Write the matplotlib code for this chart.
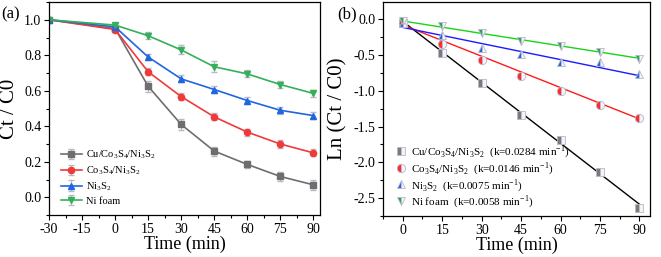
import numpy as np
import matplotlib
matplotlib.use("Agg")
import matplotlib.pyplot as plt
from matplotlib.ticker import MultipleLocator

matplotlib.rcParams['font.family'] = ["Liberation Serif", "DejaVu Serif"]
matplotlib.rcParams['mathtext.fontset'] = "custom"
matplotlib.rcParams['mathtext.rm'] = "Liberation Serif"
matplotlib.rcParams['axes.unicode_minus'] = False

# %% data, panel (a)
timeA = [-30, 0, 15, 30, 45, 60, 75, 90]
cuCoNi = [1.0, 0.95, 0.625, 0.41, 0.26, 0.185, 0.117, 0.07]
cuCoNiErr = [0.005, 0.01, 0.03, 0.03, 0.025, 0.02, 0.025, 0.03]
coNi = [1.0, 0.945, 0.707, 0.567, 0.453, 0.367, 0.30, 0.25]
coNiErr = [0.005, 0.01, 0.02, 0.02, 0.02, 0.02, 0.02, 0.02]
ni3s2 = [1.0, 0.96, 0.79, 0.667, 0.607, 0.545, 0.49, 0.46]
ni3s2Err = [0.005, 0.01, 0.015, 0.02, 0.02, 0.02, 0.02, 0.02]
niFoam = [1.0, 0.97, 0.91, 0.83, 0.735, 0.695, 0.635, 0.585]
niFoamErr = [0.005, 0.01, 0.02, 0.025, 0.03, 0.02, 0.02, 0.02]

# %% data, panel (b)
timeB = [0, 15, 30, 45, 60, 75, 90]
lnCuCoNi = [-0.05, -0.47, -0.89, -1.34, -1.69, -2.13, -2.64]
lnCoNi = [-0.06, -0.35, -0.57, -0.80, -1.00, -1.20, -1.38]
lnNi3s2 = [-0.05, -0.22, -0.40, -0.48, -0.60, -0.60, -0.76]
lnNiFoam = [-0.02, -0.10, -0.20, -0.31, -0.37, -0.46, -0.55]
kValues = [0.0284, 0.0146, 0.0075, 0.0058]
intercepts = [-0.03, -0.08, -0.115, -0.025]

labels = [r"Cu/Co$_3$S$_4$/Ni$_3$S$_2$", r"Co$_3$S$_4$/Ni$_3$S$_2$", r"Ni$_3$S$_2$", "Ni foam"]

# %%
fig = plt.figure(figsize=(6.61, 2.57), dpi=100)
axA = fig.add_axes([49/661, 42/257, 271/661, 213/257])
axB = fig.add_axes([383/661, 41/257, 267/661, 214/257])

markerCols = ["#6e6e6e", "#f03a3a", "#1f66e0", "#34b05a"]
markers = ["s", "o", "^", "v"]

for y, err, col, mk, lab in zip([cuCoNi, coNi, ni3s2, niFoam],
                                [cuCoNiErr, coNiErr, ni3s2Err, niFoamErr],
                                markerCols, markers, labels):
    axA.errorbar(timeA, y, yerr=err, color=col, marker=mk, ms=4.5, lw=1.2,
                 ecolor="#b8b8c8", elinewidth=0.8, capsize=2, label=lab)

axA.set_xlim(-30, 93)
axA.set_ylim(-0.1, 1.1)
axA.xaxis.set_major_locator(MultipleLocator(15))
axA.xaxis.set_minor_locator(MultipleLocator(7.5))
axA.yaxis.set_major_locator(MultipleLocator(0.2))
axA.yaxis.set_minor_locator(MultipleLocator(0.1))
axA.set_xlabel("Time (min)", fontsize=13, labelpad=0)
axA.set_ylabel("Ct / C0", fontsize=15, labelpad=4)
axA.legend(loc="lower left", bbox_to_anchor=(0.02, 0.015), frameon=False, fontsize=7.5,
           handlelength=2.0, labelspacing=0.3, handletextpad=0.4, borderaxespad=0.2)
fig.text(1/661, 1 - 18/257, "(a)", fontsize=12)

# %% panel (b)
fitCols = ["black", "#ff1a1a", "#1a1aff", "#19d419"]
lightCols = ["#7a7a7a", "#ff2a2a", "#2266ee", "#22aa55"]
tFit = np.array([0, 90])
for y, k, b, col, mcol, mk, lab in zip([lnCuCoNi, lnCoNi, lnNi3s2, lnNiFoam], kValues, intercepts,
                                       fitCols, lightCols, markers, labels):
    axB.plot(tFit, b - k * tFit, color=col, lw=1.0, zorder=2)
    axB.plot(timeB, y, ls="none", marker=mk, ms=6, color=mcol, fillstyle="left",
             markerfacecoloralt="#f4f4f8", markeredgecolor="#b8b8cc", markeredgewidth=0.6,
             zorder=3, label=f"{lab}  (k={k} min$^{{-1}}$)")

axB.set_xlim(-7.5, 94)
axB.set_ylim(-2.75, 0.24)
axB.xaxis.set_major_locator(MultipleLocator(15))
axB.xaxis.set_minor_locator(MultipleLocator(7.5))
axB.yaxis.set_major_locator(MultipleLocator(0.5))
axB.yaxis.set_minor_locator(MultipleLocator(0.25))
axB.set_xlabel("Time (min)", fontsize=13, labelpad=0)
axB.set_ylabel("Ln (Ct / C0)", fontsize=15, labelpad=4)
axB.legend(loc="lower left", bbox_to_anchor=(0.02, -0.005), frameon=False, fontsize=8,
           handlelength=1.0, labelspacing=0.0, handletextpad=0.4, borderaxespad=0.2)
fig.text(337/661, 1 - 18/257, "(b)", fontsize=12)

for ax in [axA, axB]:
    ax.tick_params(which="both", direction="out", labelsize=10, width=0.8, pad=2)
    ax.tick_params(which="major", length=3.5)
    ax.tick_params(which="minor", length=2)
    for s in ax.spines.values():
        s.set_linewidth(0.9)

plt.savefig("out.png", dpi=100)
